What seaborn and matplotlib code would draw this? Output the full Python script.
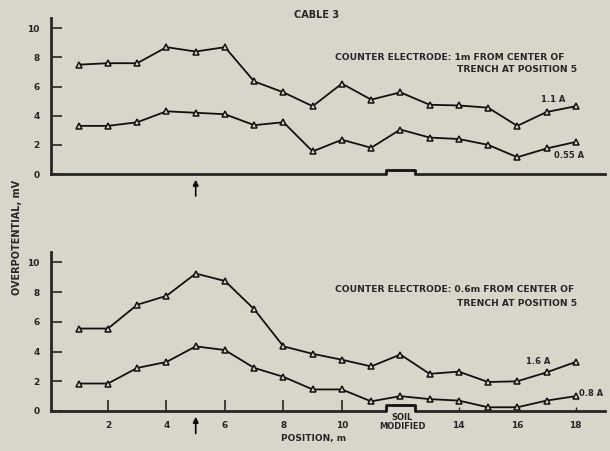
import numpy as np
import pandas as pd
import matplotlib
matplotlib.use("Agg")
import matplotlib.pyplot as plt
import seaborn as sns

# 位置 (m)
position = list(range(1, 19))

# 上图: 1m from center of trench
top_11a = [7.5, 7.6, 7.6, 8.7, 8.4, 8.7, 6.35, 5.6, 4.65, 6.2, 5.1, 5.6, 4.75, 4.7, 4.55, 3.3, 4.25, 4.65]
top_055a = [3.3, 3.3, 3.55, 4.3, 4.2, 4.1, 3.35, 3.55, 1.55, 2.35, 1.8, 3.05, 2.5, 2.4, 2.0, 1.15, 1.75, 2.2]

# 下图: 0.6m from center of trench
bot_16a = [5.55, 5.55, 7.15, 7.75, 9.25, 8.75, 6.85, 4.35, 3.85, 3.45, 3.0, 3.8, 2.5, 2.65, 1.95, 2.0, 2.6, 3.3]
bot_08a = [1.85, 1.85, 2.9, 3.3, 4.35, 4.1, 2.9, 2.3, 1.45, 1.45, 0.65, 1.0, 0.8, 0.7, 0.25, 0.25, 0.7, 1.0]

yticks = [0, 2, 4, 6, 8, 10]
xticks_major = [2, 4, 6, 8, 10]
xticks_minor = [14, 16, 18]
arrow_pos = 5
soil_x = [11.5, 11.5, 12.5, 12.5]

bg = '#d8d5cb'
sns.set_style('ticks')
plt.rcParams['font.family'] = ['DejaVu Sans']
plt.rcParams['font.weight'] = 'bold'

W, H = 610, 451
fig = plt.figure(figsize=(6.1, 4.51), dpi=100, facecolor=bg)


def fx(px):
    return px / W


def fy(py):
    return 1 - py / H


def panel(rect, s1, s2, soil_h):
    ax = fig.add_axes(rect)
    ax.set_facecolor(bg)
    df = pd.DataFrame({'pos': position * 2, 'val': s1 + s2,
                       'series': ['a'] * 18 + ['b'] * 18})
    sns.lineplot(data=df, x='pos', y='val', units='series', estimator=None,
                 color='#111111', lw=1.3, marker='^', markersize=4.8,
                 markerfacecolor=bg, markeredgecolor='#111111', markeredgewidth=1.1,
                 ax=ax)
    # 土壤改良区的凸起
    ax.fill(soil_x, [-0.05, soil_h, soil_h, -0.05], color=bg, zorder=3, clip_on=False)
    ax.plot(soil_x, [0, soil_h, soil_h, 0], color='#111111', lw=2, clip_on=False, zorder=4)
    ax.set_xlim(0.04, 19)
    ax.set_ylim(0, 10.7)
    ax.set_yticks(yticks)
    ax.set_yticklabels([str(v) for v in yticks], fontsize=6.5, fontweight='bold')
    ax.tick_params(axis='y', direction='in', length=8, width=1.2, pad=8)
    for s in ['top', 'right']:
        ax.spines[s].set_visible(False)
    ax.spines['left'].set_linewidth(2)
    ax.spines['bottom'].set_linewidth(2)
    ax.set_xlabel('')
    ax.set_ylabel('')
    ax.annotate('', xy=(arrow_pos, -0.2), xytext=(arrow_pos, -1.7),
                xycoords='data', annotation_clip=False,
                arrowprops=dict(arrowstyle='-|>', color='black', lw=1.2, mutation_scale=8))
    return ax


ax1 = panel([fx(50.7), fy(174), fx(605 - 50.7), (174 - 18) / H], top_11a, top_055a, 0.3)
ax1.set_xticks([])

ax2 = panel([fx(50.7), fy(411), fx(605 - 50.7), (411 - 252) / H], bot_16a, bot_08a, 0.4)
ax2.set_xticks(xticks_major)
ax2.set_xticklabels([str(v) for v in xticks_major], fontsize=6.5, fontweight='bold')
ax2.set_xticks(xticks_minor, minor=True)
ax2.set_xticklabels([str(v) for v in xticks_minor], minor=True, fontsize=6.5, fontweight='bold')
ax2.tick_params(axis='x', which='major', direction='in', length=8, width=1.2, pad=7)
ax2.tick_params(axis='x', which='minor', direction='in', length=3, width=1.0, pad=7)

# 文字
fig.text(fx(317), fy(15), 'CABLE 3', ha='center', va='center', fontsize=7, fontweight='bold')
fig.text(fx(335), fy(57), 'COUNTER ELECTRODE: 1m FROM CENTER OF', ha='left', va='center',
         fontsize=6.6, fontweight='bold')
fig.text(fx(457), fy(69), 'TRENCH AT POSITION 5', ha='left', va='center',
         fontsize=6.6, fontweight='bold')
fig.text(fx(541), fy(99), '1.1 A', ha='left', va='center', fontsize=6, fontweight='bold')
fig.text(fx(554), fy(155), '0.55 A', ha='left', va='center', fontsize=6, fontweight='bold')

fig.text(fx(335), fy(290), 'COUNTER ELECTRODE: 0.6m FROM CENTER OF', ha='left', va='center',
         fontsize=6.6, fontweight='bold')
fig.text(fx(457), fy(303), 'TRENCH AT POSITION 5', ha='left', va='center',
         fontsize=6.6, fontweight='bold')
fig.text(fx(526), fy(362), '1.6 A', ha='left', va='center', fontsize=6, fontweight='bold')
fig.text(fx(579), fy(393), '0.8 A', ha='left', va='center', fontsize=6, fontweight='bold')

fig.text(fx(402), fy(422), 'SOIL\nMODIFIED', ha='center', va='center', fontsize=6,
         fontweight='bold', linespacing=1.1)
fig.text(fx(314), fy(439), 'POSITION, m', ha='center', va='center', fontsize=6.5, fontweight='bold')
fig.text(fx(17), fy(237), 'OVERPOTENTIAL, mV', ha='center', va='center', rotation=90,
         fontsize=7, fontweight='bold')

fig.savefig('out.png', dpi=100, facecolor=bg)
